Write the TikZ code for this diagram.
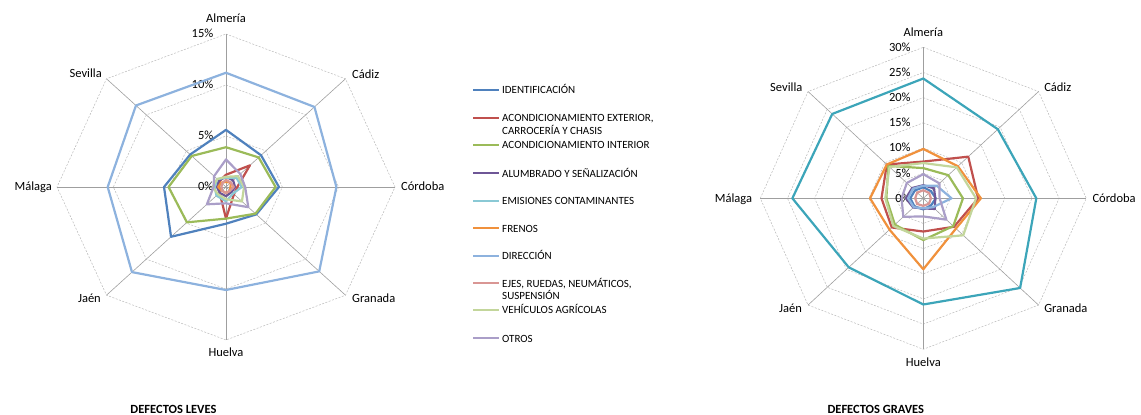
\documentclass[tikz,border=0pt]{standalone}
\usepackage{fontspec}
\setmainfont{Carlito}

\definecolor{identif}{RGB}{79,129,189}
\definecolor{exterior}{RGB}{192,80,77}
\definecolor{interior}{RGB}{155,187,89}
\definecolor{alumbrado}{RGB}{110,86,150}
\definecolor{emisiones}{RGB}{60,165,185}
\definecolor{frenos}{RGB}{240,145,60}
\definecolor{direccion}{RGB}{141,178,222}
\definecolor{ejes}{RGB}{217,150,148}
\definecolor{agricolas}{RGB}{195,214,155}
\definecolor{otros}{RGB}{170,158,200}

\tikzset{
  rejilla/.style={gray!55, line width=0.5pt, dash pattern=on 2pt off 1.5pt},
  eje/.style={gray!75, line width=0.6pt},
  serie/.style={line width=2.2pt, line join=round},
  leyline/.style={line width=2pt},
  ciudad/.style={font=\fontsize{12.5}{15}\selectfont, inner sep=0pt, text height=8pt, text depth=0pt},
  pct/.style={font=\fontsize{12.5}{15}\selectfont, inner sep=0pt, text height=8pt, text depth=0pt, anchor=east, xshift=-12.5pt},
  leyenda/.style={font=\fontsize{11}{13}\selectfont, inner sep=0pt, text height=7.5pt, text depth=0pt, anchor=west},
  titulo/.style={font=\fontsize{12.5}{15}\selectfont\bfseries, inner sep=0pt, text height=8pt, text depth=0pt},
}

% radar polygon: style, then Almeria ... Sevilla (clockwise)
\newcommand{\radar}[9]{\draw[serie,#1] (90:#2) -- (45:#3) -- (0:#4) -- (-45:#5) -- (-90:#6) -- (-135:#7) -- (180:#8) -- (135:#9) -- cycle;}
\newcommand{\octogono}[1]{\draw[rejilla] (90:#1) -- (45:#1) -- (0:#1) -- (-45:#1) -- (-90:#1) -- (-135:#1) -- (180:#1) -- (135:#1) -- cycle;}

\begin{document}
\begin{tikzpicture}[x=1pt,y=1pt]
    \useasboundingbox (0,0) rectangle (1141,415);

    % defectos leves
    \begin{scope}[shift={(226,228)}]
    \begin{scope}[x=11.267pt,y=10.2pt]
        \foreach \r in {5,10,15} {\octogono{\r}}
        \foreach \a in {90,45,0,-45,-90,-135,180,135} {\draw[eje] (0,0) -- (\a:15);}
        \foreach \r in {0,5,10,15} {\node[pct] (l\r) at (90:\r) {\r\%};}
        \node[ciudad, yshift=15pt] (alm1) at (90:15) {Almería};
        \node[ciudad, anchor=west, xshift=6.5pt, yshift=4.5pt] (cad1) at (45:15) {Cádiz};
        \node[ciudad, anchor=west, xshift=6pt] (cor1) at (0:15) {Córdoba};
        \node[ciudad, anchor=west, xshift=6.5pt, yshift=-3pt] (gra1) at (-45:15) {Granada};
        \node[ciudad, yshift=-13pt] (hue1) at (-90:15) {Huelva};
        \node[ciudad, anchor=east, xshift=-5.5pt, yshift=-3pt] (jae1) at (-135:15) {Jaén};
        \node[ciudad, anchor=east, xshift=-5pt] (mal1) at (180:15) {Málaga};
        \node[ciudad, anchor=east, xshift=-4.5pt, yshift=5pt] (sev1) at (135:15) {Sevilla};
        \radar{identif}{5.6}{4.4}{4.7}{3.8}{3.6}{6.9}{5.5}{4.5}
        \radar{exterior}{1.2}{3.0}{1.0}{1.0}{3.1}{0.8}{0.6}{0.8}
        \radar{interior}{3.9}{4.1}{4.4}{3.7}{3.1}{4.9}{5.1}{4.3}
        \radar{alumbrado}{1.0}{0.9}{0.8}{0.7}{0.9}{0.8}{0.8}{0.9}
        \radar{emisiones!60}{0.9}{1.3}{1.4}{0.9}{1.4}{1.2}{1.0}{1.1}
        \radar{frenos}{0.5}{0.6}{0.4}{0.5}{0.6}{0.5}{0.7}{0.6}
        \radar{direccion}{11.2}{11.1}{9.8}{11.7}{10.1}{11.8}{10.5}{11.3}
        \radar{ejes}{0.7}{0.6}{0.7}{0.5}{0.6}{0.5}{0.4}{0.5}
        \radar{agricolas}{1.0}{1.5}{1.6}{2.0}{1.2}{1.0}{1.2}{1.1}
        \radar{otros}{2.7}{1.8}{1.7}{2.8}{1.6}{2.4}{1.1}{1.5}
    \end{scope}
    \end{scope}

    % defectos graves
    \begin{scope}[shift={(923.3,216.7)}]
    \begin{scope}[x=5.433pt,y=5.033pt]
        \foreach \r in {5,10,...,30} {\octogono{\r}}
        \foreach \a in {90,45,0,-45,-90,-135,180,135} {\draw[eje] (0,0) -- (\a:30);}
        \foreach \r in {0,5,...,30} {\node[pct] (g\r) at (90:\r) {\r\%};}
        \node[ciudad, yshift=14.6pt] (alm2) at (90:30) {Almería};
        \node[ciudad, anchor=west, xshift=5.5pt, yshift=4pt] (cad2) at (45:30) {Cádiz};
        \node[ciudad, anchor=west, xshift=6pt] (cor2) at (0:30) {Córdoba};
        \node[ciudad, anchor=west, xshift=5.5pt, yshift=-3pt] (gra2) at (-45:30) {Granada};
        \node[ciudad, yshift=-13.4pt] (hue2) at (-90:30) {Huelva};
        \node[ciudad, anchor=east, xshift=-6pt, yshift=-3pt] (jae2) at (-135:30) {Jaén};
        \node[ciudad, anchor=east, xshift=-8pt] (mal2) at (180:30) {Málaga};
        \node[ciudad, anchor=east, xshift=-5.5pt, yshift=4pt] (sev2) at (135:30) {Sevilla};
        \radar{identif}{2.2}{2.0}{2.3}{2.0}{2.2}{2.3}{2.4}{2.2}
        \radar{exterior}{7.3}{11.7}{10.1}{8.0}{6.6}{8.2}{7.7}{9.5}
        \radar{interior}{6.0}{6.5}{7.3}{7.8}{8.3}{7.4}{6.8}{9.1}
        \radar{alumbrado}{2.6}{2.8}{2.2}{3.0}{2.0}{2.6}{3.2}{2.9}
        \radar{emisiones}{23.8}{19.4}{20.8}{25.2}{21.1}{19.4}{24.1}{23.7}
        \radar{frenos}{9.8}{9.0}{10.6}{8.5}{14.1}{8.8}{9.8}{9.5}
        \radar{direccion}{2.5}{3.5}{5.2}{2.5}{2.0}{2.5}{2.8}{2.7}
        \radar{ejes}{1.6}{1.5}{1.4}{1.5}{1.5}{1.6}{1.5}{1.6}
        \radar{agricolas}{7.0}{8.7}{9.7}{10.4}{8.0}{7.8}{7.0}{8.8}
        \radar{otros}{4.8}{4.2}{3.0}{6.0}{3.6}{5.2}{4.0}{4.3}
    \end{scope}
    \end{scope}

    % leyenda
    \draw[leyline, identif] (473,325) -- (499,325);
    \node[leyenda] (ley1) at (502,325) {IDENTIFICACIÓN};
    \draw[leyline, exterior] (473,297.3) -- (499,297.3);
    \node[leyenda] (ley2) at (502,297.3) {ACONDICIONAMIENTO EXTERIOR,};
    \node[leyenda] (ley2b) at (502,284) {CARROCERÍA Y CHASIS};
    \draw[leyline, interior] (473,270) -- (499,270);
    \node[leyenda] (ley3) at (502,270) {ACONDICIONAMIENTO INTERIOR};
    \draw[leyline, alumbrado] (473,241.7) -- (499,241.7);
    \node[leyenda] (ley4) at (502,241.7) {ALUMBRADO Y SEÑALIZACIÓN};
    \draw[leyline, emisiones!60] (473,214.3) -- (499,214.3);
    \node[leyenda] (ley5) at (502,214.3) {EMISIONES CONTAMINANTES};
    \draw[leyline, frenos] (473,186.7) -- (499,186.7);
    \node[leyenda] (ley6) at (502,186.7) {FRENOS};
    \draw[leyline, direccion] (473,159) -- (499,159);
    \node[leyenda] (ley7) at (502,159) {DIRECCIÓN};
    \draw[leyline, ejes] (473,131.7) -- (499,131.7);
    \node[leyenda] (ley8) at (502,131.7) {EJES, RUEDAS, NEUMÁTICOS,};
    \node[leyenda] (ley8b) at (502,119.3) {SUSPENSIÓN};
    \draw[leyline, agricolas] (473,105) -- (499,105);
    \node[leyenda] (ley9) at (502,105) {VEHÍCULOS AGRÍCOLAS};
    \draw[leyline, otros] (473,76.7) -- (499,76.7);
    \node[leyenda] (ley10) at (502,76.7) {OTROS};

    \node[titulo] (leves) at (173.5,5) {DEFECTOS LEVES};
    \node[titulo] (graves) at (875.8,5) {DEFECTOS GRAVES};
\end{tikzpicture}
\end{document}
